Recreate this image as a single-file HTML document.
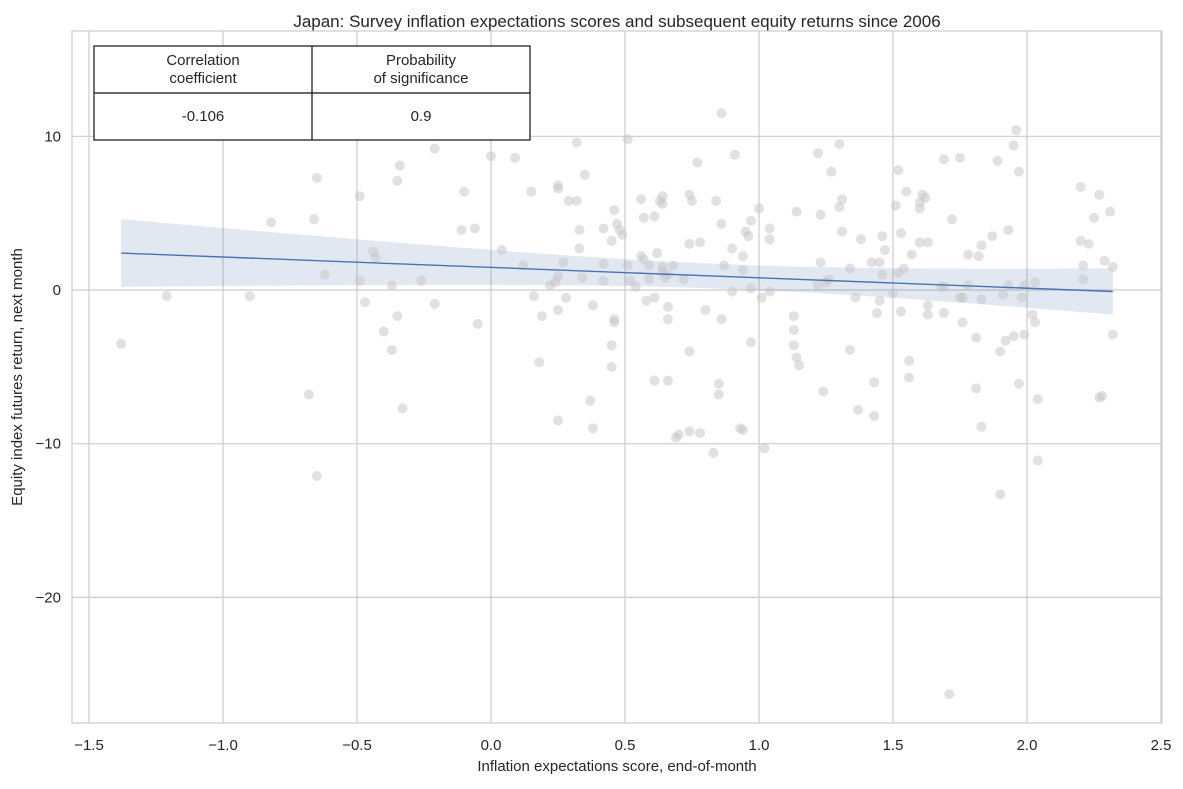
<!DOCTYPE html>
<html><head><meta charset="utf-8"><style>
body{margin:0;background:#fff;font-family:"Liberation Sans",sans-serif;}
svg text{font-family:"Liberation Sans",sans-serif;fill:#262626;}
</style></head><body>
<svg id="chart" width="1183" height="784" xmlns="http://www.w3.org/2000/svg">
<text x="617" y="27" text-anchor="middle" font-size="17">Japan: Survey inflation expectations scores and subsequent equity returns since 2006</text>
<text x="617" y="771" text-anchor="middle" font-size="15">Inflation expectations score, end-of-month</text>
<text transform="translate(22,377) rotate(-90)" text-anchor="middle" font-size="15">Equity index futures return, next month</text>
<g id="grid"></g><g id="band"></g><g id="pts"></g><g id="line"></g><g id="ticks"></g>
<rect x="72" y="31" width="1090" height="692" fill="none" stroke="#cccccc" stroke-width="1.2"/>
<g>
<rect x="94" y="46" width="436" height="94" fill="#fff" stroke="#111" stroke-width="1.2"/>
<line x1="312" y1="46" x2="312" y2="140" stroke="#111" stroke-width="1.2"/>
<line x1="94" y1="93" x2="530" y2="93" stroke="#111" stroke-width="1.2"/>
<text x="203" y="65" text-anchor="middle" font-size="15">Correlation</text>
<text x="203" y="83" text-anchor="middle" font-size="15">coefficient</text>
<text x="421" y="65" text-anchor="middle" font-size="15">Probability</text>
<text x="421" y="83" text-anchor="middle" font-size="15">of significance</text>
<text x="203" y="121" text-anchor="middle" font-size="15">-0.106</text>
<text x="421" y="121" text-anchor="middle" font-size="15">0.9</text>
</g>
</svg>
<script>
const xVals=[-1.38,-1.21,-0.90,-0.82,-0.68,-0.66,-0.65,-0.65,-0.62,-0.49,-0.49,-0.47,-0.44,-0.43,-0.40,-0.37,-0.37,-0.35,-0.34,-0.35,-0.33,-0.26,-0.21,-0.21,-0.11,-0.10,-0.06,-0.05,0.0,0.04,0.09,0.12,0.15,0.16,0.18,0.19,0.22,0.24,0.25,0.25,0.25,0.25,0.25,0.27,0.28,0.29,0.32,0.32,0.33,0.33,0.35,0.34,0.38,0.37,0.38,0.42,0.42,0.42,0.45,0.46,0.46,0.46,0.45,0.45,0.48,0.49,0.47,0.51,0.52,0.51,0.54,0.56,0.56,0.57,0.57,0.58,0.59,0.61,0.59,0.61,0.61,0.62,0.63,0.64,0.64,0.64,0.64,0.65,0.66,0.66,0.66,0.66,0.68,0.69,0.70,0.72,0.74,0.74,0.75,0.74,0.74,0.77,0.78,0.78,0.80,0.83,0.84,0.86,0.85,0.85,0.86,0.86,0.87,0.91,0.90,0.90,0.93,0.94,0.94,0.94,0.95,0.96,0.97,0.97,0.97,1.0,1.01,1.02,1.04,1.04,1.04,1.14,1.13,1.13,1.13,1.14,1.15,1.22,1.22,1.23,1.23,1.24,1.25,1.26,1.27,1.30,1.30,1.31,1.31,1.34,1.34,1.36,1.37,1.38,1.42,1.43,1.43,1.44,1.45,1.45,1.46,1.46,1.47,1.51,1.52,1.50,1.52,1.53,1.53,1.54,1.55,1.56,1.56,1.57,1.61,1.60,1.60,1.62,1.60,1.63,1.63,1.63,1.69,1.68,1.69,1.69,1.71,1.72,1.75,1.75,1.76,1.76,1.78,1.78,1.81,1.81,1.82,1.83,1.83,1.83,1.87,1.89,1.90,1.90,1.91,1.92,1.93,1.93,1.95,1.95,1.96,1.97,1.97,1.98,1.99,1.99,2.02,2.03,2.03,2.04,2.04,2.20,2.20,2.21,2.21,2.23,2.25,2.27,2.27,2.28,2.29,2.31,2.32,2.32];
const yVals=[-3.5,-0.4,-0.4,4.4,-6.8,4.6,7.3,-12.1,1.0,6.1,0.6,-0.8,2.5,2.1,-2.7,-3.9,0.3,7.1,8.1,-1.7,-7.7,0.6,9.2,-0.9,3.9,6.4,4.0,-2.2,8.7,2.6,8.6,1.6,6.4,-0.4,-4.7,-1.7,0.3,0.5,6.8,6.6,0.9,-1.3,-8.5,1.8,-0.5,5.8,5.8,9.6,2.7,3.9,7.5,0.8,-1.0,-7.2,-9.0,4.0,1.7,0.6,3.2,5.2,-1.9,-2.1,-3.6,-5.0,3.9,3.6,4.3,1.6,0.6,9.8,0.2,2.2,5.9,4.7,2.0,-0.7,1.6,-0.5,0.7,4.8,-5.9,2.4,5.8,1.5,5.6,6.1,1.2,0.8,1.0,-1.1,-1.9,-5.9,1.6,-9.6,-9.4,0.7,3.0,-4.0,5.8,6.2,-9.2,8.3,-9.3,3.1,-1.3,-10.6,5.8,4.3,-6.1,-6.8,-1.9,11.5,1.6,8.8,-0.1,2.7,-9.0,-9.1,2.2,1.3,3.8,3.5,4.5,-3.4,0.1,5.3,-0.5,-10.3,4.0,3.3,-0.1,5.1,-1.7,-2.6,-3.6,-4.4,-4.9,8.9,0.3,4.9,1.8,-6.6,0.5,0.7,7.7,5.4,9.5,3.8,5.9,1.4,-3.9,-0.5,-7.8,3.3,1.8,-6.0,-8.2,-1.5,1.8,-0.7,3.5,1.0,2.6,5.5,7.8,-0.2,1.1,3.7,-1.4,1.4,6.4,-4.6,-5.7,2.3,6.2,5.7,5.3,6.0,3.1,3.1,-1.6,-1.0,8.5,0.2,0.2,-1.5,-26.3,4.6,8.6,-0.5,-0.5,-2.1,2.3,0.3,-3.1,-6.4,2.2,2.9,-0.6,-8.9,3.5,8.4,-4.0,-13.3,-0.3,-3.3,0.3,3.9,-3.0,9.4,10.4,7.7,-6.1,-0.5,-2.9,0.3,-1.6,-2.1,0.5,-7.1,-11.1,6.7,3.2,0.7,1.6,3.0,4.7,6.2,-7.0,-6.9,1.9,5.1,-2.9,1.5];
const xTicks=[-1.5,-1.0,-0.5,0.0,0.5,1.0,1.5,2.0,2.5];
const xTickLabels=["\u22121.5","\u22121.0","\u22120.5","0.0","0.5","1.0","1.5","2.0","2.5"];
const yTicks=[10,0,-10,-20];
const yTickLabels=["10","0","\u221210","\u221220"];
const fitSlope=-0.676, fitIntercept=1.47;
const NS='http://www.w3.org/2000/svg';
const sx=v=>491+268*v, sy=v=>290-15.37*v;
function mk(tag,attrs,parent){const e=document.createElementNS(NS,tag);for(const k in attrs)e.setAttribute(k,attrs[k]);document.getElementById(parent).appendChild(e);return e;}
xTicks.forEach((t,i)=>{
 const g=mk('line',{x1:sx(t),x2:sx(t),y1:31,y2:723,stroke:'#cccccc','stroke-width':1.2},'grid');
 
 
 const l=mk('text',{x:sx(t),y:750,'text-anchor':'middle','font-size':15},'ticks');l.textContent=xTickLabels[i];
 
 
});
yTicks.forEach((t,i)=>{
 const g=mk('line',{x1:72,x2:1162,y1:sy(t),y2:sy(t),stroke:'#cccccc','stroke-width':1.2},'grid');
 
 
 const l=mk('text',{x:61,y:sy(t)+5,'text-anchor':'end','font-size':15},'ticks');l.textContent=yTickLabels[i];
 
 
});
xVals.forEach((x,i)=>{
 const c=mk('circle',{cx:sx(x),cy:sy(yVals[i]),r:5,fill:'#c4c4c4','fill-opacity':0.5},'pts');
 
 
});
const xmin=Math.min(...xVals), xmax=Math.max(...xVals);
const fit=x=>fitIntercept+fitSlope*x;
const half=x=>Math.sqrt(0.64+0.81*(x-0.9)*(x-0.9));
let up=[],dn=[];
for(let k=0;k<=50;k++){const x=xmin+(xmax-xmin)*k/50;up.push(sx(x)+','+sy(fit(x)+half(x)));dn.unshift(sx(x)+','+sy(fit(x)-half(x)));}
const b=mk('polygon',{points:up.concat(dn).join(' '),fill:'#4c72b0','fill-opacity':0.16},'band');


const ln=mk('line',{x1:sx(xmin),y1:sy(fit(xmin)),x2:sx(xmax),y2:sy(fit(xmax)),stroke:'#4c72b0','stroke-width':1.4},'line');


</script>
</body></html>
